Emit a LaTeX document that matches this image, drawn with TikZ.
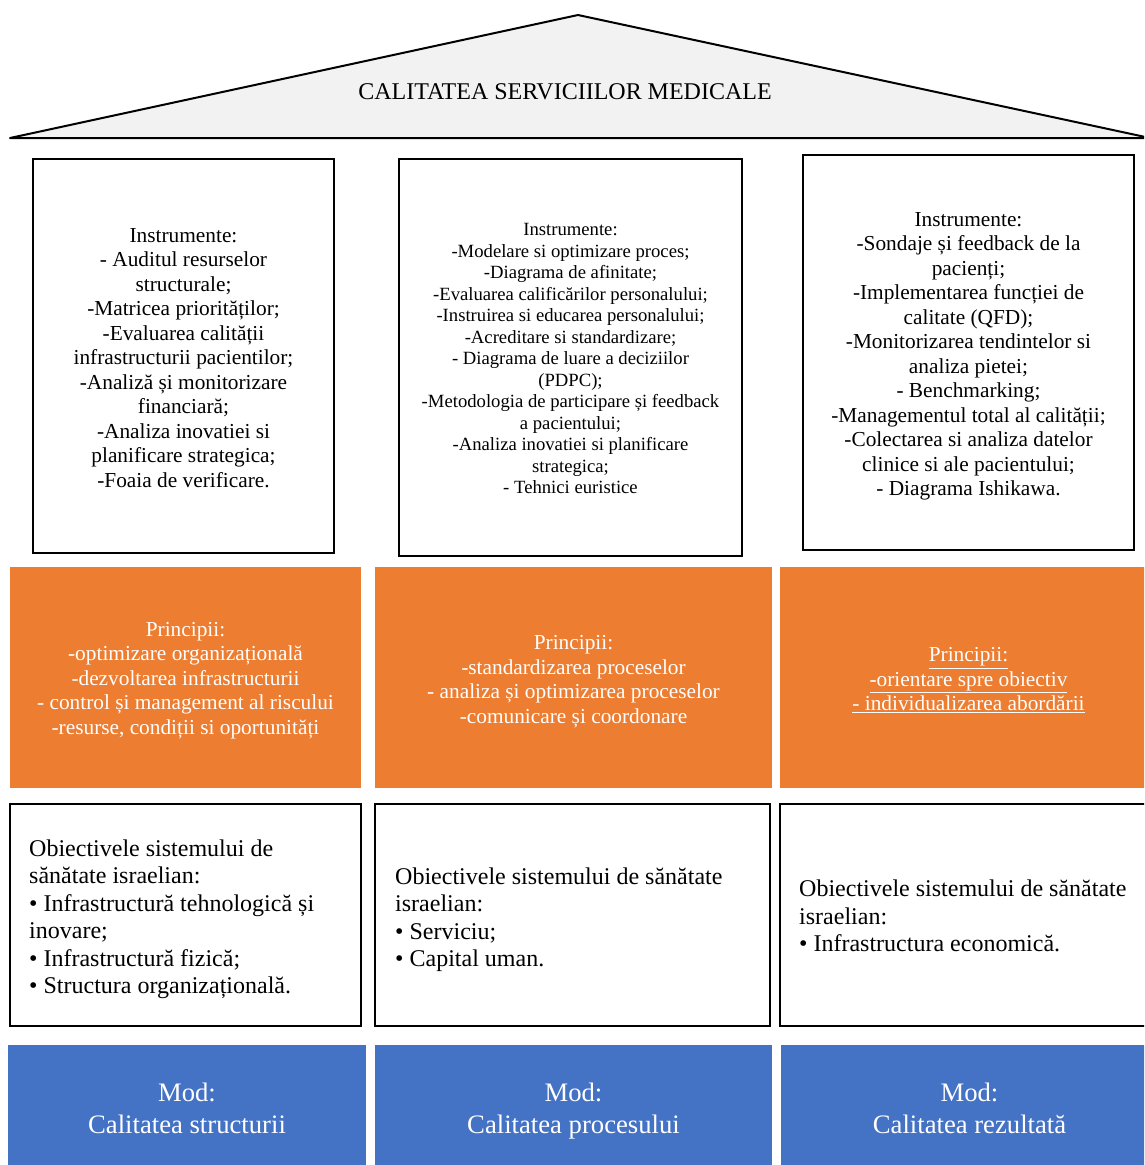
\documentclass[tikz,border=0pt]{standalone}
\usepackage{fontspec}
\setmainfont{Liberation Serif}
\definecolor{roofgray}{HTML}{F2F2F2}
\definecolor{orangebox}{HTML}{ED7D31}
\definecolor{bluebox}{HTML}{4472C4}
\tikzset{
  toolbox/.style={draw=black, line width=1.5pt, fill=white, inner sep=0pt},
  toolfont/.style={align=center, inner sep=0pt, font=\fontsize{21.33}{24.5}\selectfont},
  toolfontsmall/.style={align=center, inner sep=0pt, font=\fontsize{18.67}{21.5}\selectfont},
  princbox/.style={fill=orangebox, inner sep=0pt},
  princfont/.style={text=white, align=center, inner sep=0pt, font=\fontsize{21.33}{24.5}\selectfont},
  objbox/.style={draw=black, line width=2pt, fill=white, inner sep=0pt},
  objfont/.style={align=left, anchor=west, inner sep=0pt, font=\fontsize{24}{27.5}\selectfont},
  modbox/.style={fill=bluebox, inner sep=0pt},
  modfont/.style={text=white, align=center, inner sep=0pt, font=\fontsize{26.67}{32}\selectfont},
  rooftitle/.style={font=\fontsize{24}{28}\selectfont}
}
\begin{document}
\begin{tikzpicture}[x=1pt,y=-1pt]
\useasboundingbox (0,0) rectangle (1144,1165);
\clip (0,0) rectangle (1144,1165);
% roof
\draw[fill=roofgray, line width=2pt, line join=round] (10,138) -- (578,15) -- (1150,138) -- cycle;
\node[rooftitle] (title) at (565,92) {CALITATEA SERVICIILOR MEDICALE};
% tools row
\node[toolbox, minimum width=301pt, minimum height=394pt] (t1) at (183.5,356) {};
\node[toolfont, yshift=-2pt] (t1text) at (t1.center) {Instrumente:\\- Auditul resurselor\\structurale;\\-Matricea priorităților;\\-Evaluarea calității\\infrastructurii pacientilor;\\-Analiză și monitorizare\\financiară;\\-Analiza inovatiei si\\planificare strategica;\\-Foaia de verificare.};
\node[toolbox, minimum width=343pt, minimum height=397pt] (t2) at (570.5,357.5) {};
\node[toolfontsmall, yshift=-1pt] (t2text) at (t2.center) {Instrumente:\\-Modelare si optimizare proces;\\-Diagrama de afinitate;\\-Evaluarea calificărilor personalului;\\-Instruirea si educarea personalului;\\-Acreditare si standardizare;\\- Diagrama de luare a deciziilor\\(PDPC);\\-Metodologia de participare și feedback\\a pacientului;\\-Analiza inovatiei si planificare\\strategica;\\- Tehnici euristice};
\node[toolbox, minimum width=331pt, minimum height=395pt] (t3) at (968.5,352.5) {};
\node[toolfont, yshift=-4pt] (t3text) at (t3.center) {Instrumente:\\-Sondaje și feedback de la\\pacienți;\\-Implementarea funcției de\\calitate (QFD);\\-Monitorizarea tendintelor si\\analiza pietei;\\- Benchmarking;\\-Managementul total al calității;\\-Colectarea si analiza datelor\\clinice si ale pacientului;\\- Diagrama Ishikawa.};
% principles row
\node[princbox, minimum width=351pt, minimum height=221pt] (p1) at (185.5,677.5) {};
\node[princfont, yshift=-3pt] (p1text) at (p1.center) {Principii:\\-optimizare organizațională\\-dezvoltarea infrastructurii\\- control și management al riscului\\-resurse, condiții si oportunități};
\node[princbox, minimum width=397pt, minimum height=221pt] (p2) at (573.5,677.5) {};
\node[princfont, yshift=-4pt] (p2text) at (p2.center) {Principii:\\-standardizarea proceselor\\- analiza și optimizarea proceselor\\-comunicare și coordonare};
\node[princbox, minimum width=377pt, minimum height=221pt] (p3) at (968.5,677.5) {};
\node[princfont, yshift=-3pt] (p3text) at (p3.center) {\underline{Principii:}\\\underline{-orientare spre obiectiv}\\\underline{- individualizarea abordării}};
% objectives row
\node[objbox, minimum width=351pt, minimum height=222pt] (ob1) at (185.5,915) {};
\node[objfont, xshift=20pt, yshift=-4.5pt] (ob1text) at (ob1.west) {Obiectivele sistemului de\\sănătate israelian:\\• Infrastructură tehnologică și\\inovare;\\• Infrastructură fizică;\\• Structura organizațională.};
\node[objbox, minimum width=395pt, minimum height=222pt] (ob2) at (572.5,915) {};
\node[objfont, xshift=21pt, yshift=-4.5pt] (ob2text) at (ob2.west) {Obiectivele sistemului de sănătate\\israelian:\\• Serviciu;\\• Capital uman.};
\node[objbox, minimum width=377pt, minimum height=222pt] (ob3) at (968.5,915) {};
\node[objfont, xshift=20pt, yshift=-1pt] (ob3text) at (ob3.west) {Obiectivele sistemului de sănătate\\israelian:\\• Infrastructura economică.};
% mode row
\node[modbox, minimum width=358pt, minimum height=126pt] (m1) at (187,1108) {};
\node[modfont] (m1text) at (m1.center) {Mod:\\Calitatea structurii};
\node[modbox, minimum width=397pt, minimum height=126pt] (m2) at (573.5,1108) {};
\node[modfont, yshift=-3pt] (m2text) at (m2.center) {Mod:\\Calitatea procesului};
\node[modbox, minimum width=377pt, minimum height=126pt] (m3) at (969.5,1108) {};
\node[modfont] (m3text) at (m3.center) {Mod:\\Calitatea rezultată};
\end{tikzpicture}
\end{document}
